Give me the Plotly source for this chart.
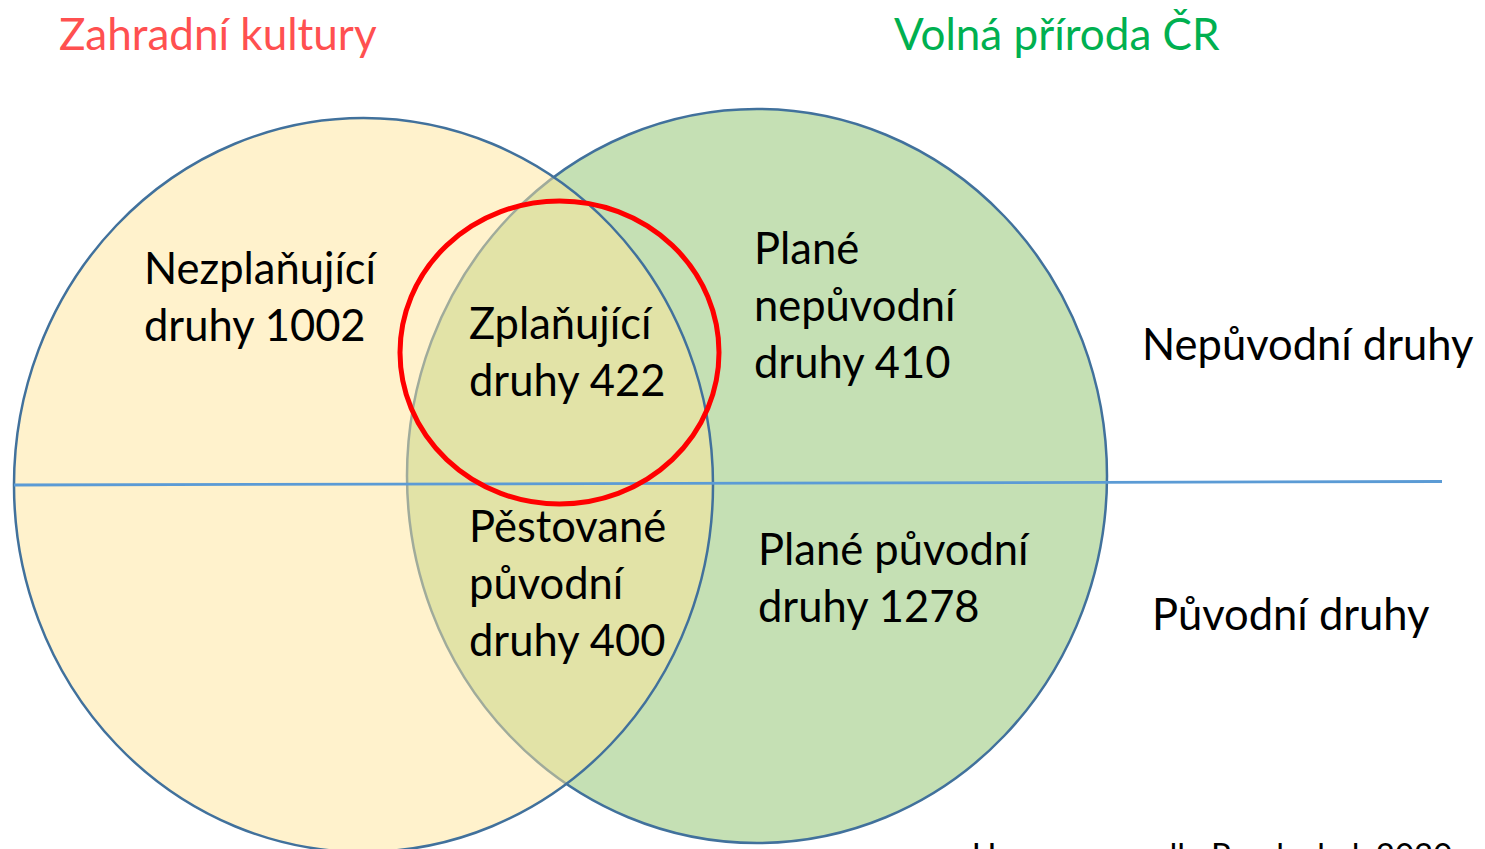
import plotly.graph_objects as go

# ---------------- data ----------------
set_titles = ["Zahradní kultury", "Volná příroda ČR"]
set_title_colors = ["#FF5050", "#00B050"]
region_names = [
    ["Nezplaňující", "druhy"],
    ["Zplaňující", "druhy"],
    ["Plané", "nepůvodní", "druhy"],
    ["Pěstované", "původní", "druhy"],
    ["Plané původní", "druhy"],
]
region_counts = [1002, 422, 410, 400, 1278]
row_labels = ["Nepůvodní druhy", "Původní druhy"]
source_note = "Upraveno podle Pergl a kol. 2020"

# ---------------- layout (pixel canvas) ----------------
W, H = 1485, 849
OFF = 8  # page body margin
FONT = "Lato"
FS = 43.5
LINE = 57
BEAR = 3  # glyph side bearing correction

fig = go.Figure()
fig.add_trace(go.Scatter(x=[0], y=[0], mode="markers", marker=dict(opacity=0),
                         hoverinfo="skip", showlegend=False))

# circles
fig.add_shape(type="circle", xref="x", yref="y", x0=407, x1=1107, y0=109, y1=843,
              fillcolor="#C5E0B4", line=dict(color="#41719C", width=2.5), layer="above")
fig.add_shape(type="circle", xref="x", yref="y", x0=14, x1=713, y0=118, y1=852,
              fillcolor="rgba(255,229,153,0.5)", line=dict(color="#41719C", width=2.5), layer="above")
# divider
fig.add_shape(type="line", xref="x", yref="y", x0=14, y0=485, x1=1442, y1=481.5,
              line=dict(color="#5B9BD5", width=2.8), layer="above")
# highlight
fig.add_shape(type="circle", xref="x", yref="y", x0=400, x1=719, y0=201, y1=504,
              fillcolor="rgba(0,0,0,0)", line=dict(color="#FF0000", width=5), layer="above")

def txt(s, x, baseline, size=FS, color="black"):
    fig.add_annotation(x=x - BEAR, y=baseline - 0.34 * size, xref="x", yref="y", text=s,
                       showarrow=False, xanchor="left", yanchor="middle",
                       font=dict(family=FONT, size=size, color=color))

# titles
txt(set_titles[0], 60, 48, size=44, color=set_title_colors[0])
txt(set_titles[1], 895, 48, size=44, color=set_title_colors[1])

# regions
region_pos = [(145, 282), (470, 337), (755, 262), (470, 540), (759, 563)]
for names, cnt, (x, b) in zip(region_names, region_counts, region_pos):
    lines = names[:-1] + [f"{names[-1]} {cnt}"]
    for i, ln in enumerate(lines):
        txt(ln, x, b + i * LINE)

# row labels
txt(row_labels[0], 1143, 358, size=43.5)
txt(row_labels[1], 1153, 628, size=43.5)

# source (cut off at bottom, as in the original)
txt(source_note, 973, 865, size=33)

fig.update_layout(
    width=W, height=H, margin=dict(l=0, r=0, t=0, b=0),
    plot_bgcolor="white", paper_bgcolor="white",
    xaxis=dict(range=[OFF, W + OFF], visible=False, fixedrange=True),
    yaxis=dict(range=[H + OFF, OFF], visible=False, fixedrange=True),
    showlegend=False,
)
fig.write_html("out.html", config={"displayModeBar": False})
